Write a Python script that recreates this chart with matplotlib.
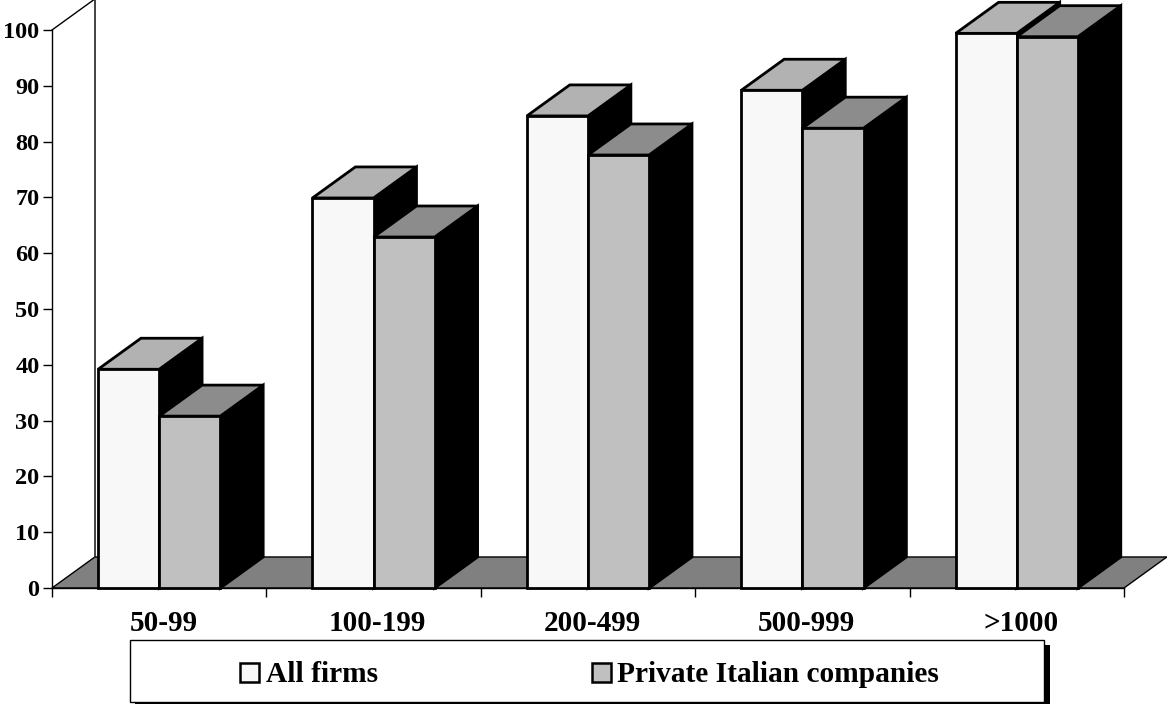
import matplotlib
matplotlib.use('Agg')
import matplotlib.pyplot as plt
from matplotlib.patches import Polygon, Rectangle

plt.rcParams['font.family'] = ['Liberation Serif', 'DejaVu Serif']
plt.rcParams['font.weight'] = 'bold'

categories = ['50-99', '100-199', '200-499', '500-999', '>1000']
all_firms = [39.2, 69.9, 84.6, 89.2, 99.4]
private_italian = [30.8, 62.9, 77.6, 82.4, 98.8]
y_ticks = list(range(0, 101, 10))

# depth of the fake 3d effect, in data units
dx = 0.2
dy = 5.56
bar_w = 0.285

fig = plt.figure(figsize=(11.67, 7.04), dpi=100)
ax = fig.add_axes([52/1167, (704-588)/704, 1072/1167, 558/704])
ax.set_xlim(0, 5)
ax.set_ylim(0, 100)
ax.patch.set_visible(False)


def box(x, h, front, top, zo):
    # front face, top face and black right side of one bar
    side = Polygon([(x+bar_w, 0), (x+bar_w+dx, dy), (x+bar_w+dx, h+dy), (x+bar_w, h)],
                   facecolor='black', edgecolor='black', lw=2, zorder=zo, clip_on=False)
    roof = Polygon([(x, h), (x+dx, h+dy), (x+bar_w+dx, h+dy), (x+bar_w, h)],
                   facecolor=top, edgecolor='black', lw=2, zorder=zo, clip_on=False)
    face = Rectangle((x, 0), bar_w, h, facecolor=front, edgecolor='black', lw=2,
                     zorder=zo, clip_on=False)
    ax.add_patch(side)
    ax.add_patch(roof)
    ax.add_patch(face)


# floor and back wall
ax.add_patch(Polygon([(0, 0), (dx, dy), (5+dx, dy), (5, 0)], facecolor='#808080',
                     edgecolor='black', lw=1, zorder=1, clip_on=False))
ax.plot([0, dx], [100, 100+dy], color='black', lw=1, zorder=1, clip_on=False)
ax.plot([dx, dx], [dy, 100+dy], color='#222222', lw=1.2, zorder=1, clip_on=False)
ax.plot([dx, 5+dx], [100+dy, 100+dy], color='#eeeeee', lw=1, zorder=1, clip_on=False)

for i in range(len(categories)):
    x0 = i + 0.5 - bar_w
    box(x0, all_firms[i], '#f8f8f8', '#b2b2b2', 3 + i*2)
    box(x0 + bar_w, private_italian[i], '#c0c0c0', '#8c8c8c', 4 + i*2)

for s in ['top', 'right']:
    ax.spines[s].set_visible(False)
for s in ['left', 'bottom']:
    ax.spines[s].set_linewidth(1)
    ax.spines[s].set_zorder(2)

ax.set_yticks(y_ticks)
ax.set_yticklabels([str(v) for v in y_ticks], fontsize=17.5, fontweight='bold')
ax.set_xticks(range(6))
ax.set_xticklabels([])
ax.tick_params(axis='y', length=6.5, width=1, pad=2.5)
ax.tick_params(axis='x', length=6.5, width=1)
for i, c in enumerate(categories):
    ax.annotate(c, (i+0.5, 0), xytext=(3, -15.5), textcoords='offset points', ha='center',
                va='top', fontsize=21, fontweight='bold')

# legend box with its black shadow, in pixel coordinates
lax = fig.add_axes([0, 0, 1, 1])
lax.set_xlim(0, 1167)
lax.set_ylim(704, 0)
lax.axis('off')
lax.add_patch(Rectangle((135, 645), 915, 59, facecolor='black', edgecolor='none', clip_on=False))
lax.add_patch(Rectangle((130, 640), 914, 62, facecolor='white', edgecolor='black', lw=1))
lax.add_patch(Rectangle((240, 663), 19, 19, facecolor='#f8f8f8', edgecolor='black', lw=1.8))
lax.add_patch(Rectangle((592, 663), 19, 19, facecolor='#c0c0c0', edgecolor='black', lw=1.8))
lax.text(266, 682, 'All firms', fontsize=21.2, fontweight='bold', va='baseline')
lax.text(617, 682, 'Private Italian companies', fontsize=21.2, fontweight='bold', va='baseline')

fig.savefig('out.png', dpi=100)
